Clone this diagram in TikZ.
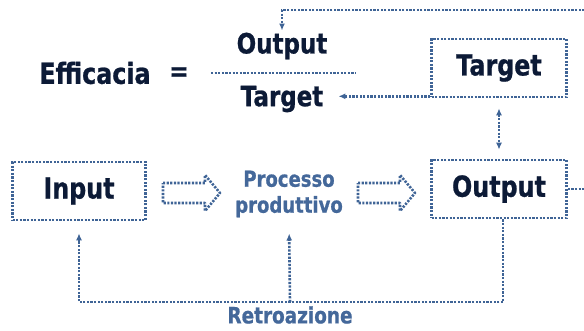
\documentclass[tikz,border=0pt]{standalone}
\usepackage{fontspec}
\setmainfont{DejaVu Sans}[FakeStretch=0.82, BoldFeatures={FakeBold=0.8}]
\usetikzlibrary{arrows.meta}

\definecolor{dotblue}{HTML}{3F6496}
\definecolor{boxtext}{HTML}{0C1A36}
\definecolor{proctext}{HTML}{44689A}

\tikzstyle{dotline}=[dotblue, line width=2.6pt, dash pattern=on 2.2pt off 1.4pt]
\tikzstyle{dep}=[dotline, -{Latex[length=7pt,width=6pt]}]
\tikzstyle{bigbox}=[draw, dotline, text=boxtext, minimum width=135pt, minimum height=58pt,
  font=\bfseries\fontsize{29}{31}\selectfont]
\tikzstyle{eqtext}=[text=boxtext, inner sep=2pt, font=\bfseries\fontsize{28}{30}\selectfont]
\tikzstyle{proc}=[text=proctext, align=center, inner sep=2pt, font=\bfseries\fontsize{22}{26}\selectfont]

\begin{document}
\begin{tikzpicture}[x=1pt, y=-1pt]
      \useasboundingbox (0,0) rectangle (584,330);
      % formula
      \node[eqtext, font=\bfseries\fontsize{29}{31}\selectfont] (eff) at (95,73) {Efficacia};
      \node[eqtext] (eq) at (179,74) {=};
      \node[eqtext] (num) at (282,46) {Output};
      \node[eqtext] (den) at (282,99) {Target};
      \coordinate (fl) at (211,73);
      \coordinate (fr) at (356,73);
      \draw[dotline] (fl) -- (fr);
      % boxes
      \node[bigbox] (target) at (499,68) {Target};
      \node[bigbox] (output) at (499,189) {Output};
      \node[bigbox, minimum width=133pt] (input) at (79,191) {Input};
      \node[proc] (proc) at (289,194) {Processo\\produttivo};
      \node[proc, font=\bfseries\fontsize{22.5}{26}\selectfont] (retro) at (290,315) {Retroazione};
      % hollow arrows
      \foreach \x in {163, 358} {%
        \coordinate (ha\x) at (\x,193);
        \draw[dotline, line join=round] (ha\x) ++(0,-10) -- ++(42,0) -- ++(0,-8)
          -- ++(15,18) -- ++(-15,18) -- ++(0,-8) -- ++(-42,0) -- cycle;
      }
      % connectors
      \coordinate (offr) at (600,10);
      \draw[dep] (output.east) -| (offr) -| (num.north);
      \draw[dep, shorten >=13pt] ([yshift=2pt]target.south west) -- ([yshift=2pt]target.south west -| den.east);
      \draw[dep, {Latex[length=7pt,width=6pt]}-{Latex[length=7pt,width=6pt]}, shorten <=10pt, shorten >=9pt] (target.south) -- (output.north);
      \coordinate (loop) at (290,302);
      \draw[dep, shorten >=12pt] ([xshift=4pt]output.south) |- (loop) -| (input.south);
      \draw[dep, shorten >=14pt] (loop) -- (proc.south);
\end{tikzpicture}
\end{document}
